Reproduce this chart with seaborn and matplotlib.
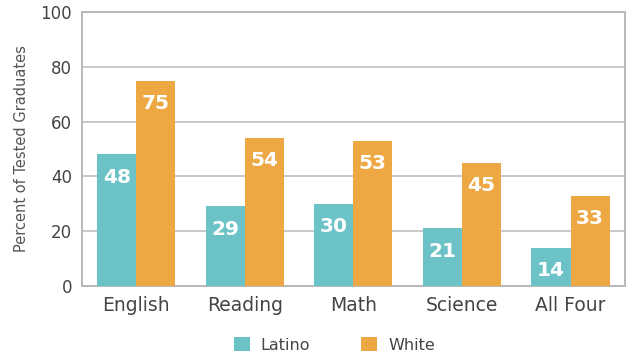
import matplotlib
matplotlib.use("Agg")
import matplotlib.pyplot as plt
import seaborn as sns
import pandas as pd

categories = ["English", "Reading", "Math", "Science", "All Four"]
latino = [48, 29, 30, 21, 14]
white = [75, 54, 53, 45, 33]
groups = ["Latino", "White"]
colors = ["#6CC3C7", "#EDA843"]

df = pd.DataFrame({
    "Subject": categories * 2,
    "Group": ["Latino"] * len(categories) + ["White"] * len(categories),
    "Value": latino + white,
})

sns.set_theme(style="white")
plt.rcParams['font.family'] = ['DejaVu Sans']

fig = plt.figure(figsize=(6.35, 3.56), dpi=100)
ax = fig.add_axes([0.129, 0.197, 0.855, 0.769])

sns.barplot(data=df, x="Subject", y="Value", hue="Group", order=categories,
            hue_order=groups, palette=colors, width=0.72, saturation=1,
            ax=ax, zorder=3, edgecolor="none")

ax.set_ylim(0, 100)
ax.set_yticks([0, 20, 40, 60, 80, 100])
ax.yaxis.grid(True, color="#c8c8c8", linewidth=1.4, zorder=0)
ax.set_axisbelow(True)
for s in ax.spines.values():
    s.set_color("#b8b8b8")
    s.set_linewidth(1.4)

ax.set_xlabel("")
ax.set_ylabel("Percent of Tested Graduates", fontsize=10.5, color="#555555", labelpad=8)
ax.tick_params(axis="y", labelsize=12, colors="#444444", length=0, pad=7)
ax.tick_params(axis="x", labelsize=13.5, colors="#444444", length=0, pad=7)

for cont in ax.containers:
    for bar in cont:
        h = bar.get_height()
        ax.annotate(f"{h:.0f}", (bar.get_x() + bar.get_width() / 2, h),
                    xytext=(0, -16.5), textcoords="offset points",
                    ha="center", va="center", color="white",
                    fontsize=14.5, fontweight="bold", zorder=5)

leg = ax.legend(loc="upper center", bbox_to_anchor=(0.465, -0.135), ncol=2,
                frameon=False, fontsize=11.5, handlelength=1.0, handleheight=1.0,
                columnspacing=3.2, handletextpad=0.7)
for t in leg.get_texts():
    t.set_color("#444444")

fig.savefig("out.png", dpi=100)
